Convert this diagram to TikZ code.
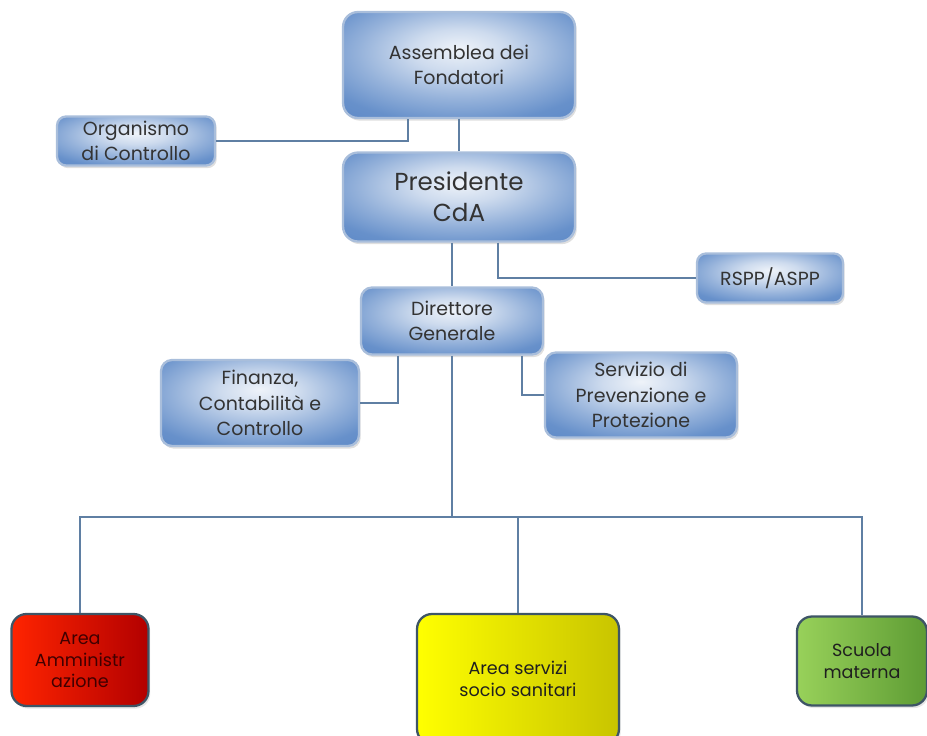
\documentclass[tikz,border=0pt]{standalone}
\usepackage{fontspec}
\setmainfont{Poppins}
\usepackage{tikz}
\usetikzlibrary{positioning, shadows, calc}
\definecolor{boxblue}{HTML}{5A87C6}
\definecolor{boxedge}{HTML}{A9BEDB}
\definecolor{linkcolor}{HTML}{5F7FA3}
\definecolor{textgrey}{HTML}{333333}
\definecolor{areaedge}{HTML}{3E5566}
\definecolor{redleft}{HTML}{FF2400}
\definecolor{redright}{HTML}{B20000}
\definecolor{yelleft}{HTML}{FFFF00}
\definecolor{yelright}{HTML}{C8C400}
\definecolor{grnleft}{HTML}{98D15A}
\definecolor{grnright}{HTML}{5E9C34}
\pgfdeclareradialshading{unitshade}{\pgfpoint{0bp}{8bp}}{%
  color(0bp)=(white!90!boxblue); color(10bp)=(white!70!boxblue);
  color(22bp)=(white!35!boxblue); color(32bp)=(white!8!boxblue);
  color(42bp)=(boxblue); color(75bp)=(boxblue!85!black)}

\begin{document}
\begin{tikzpicture}[x=0.02cm, y=-0.02cm,
    unit/.style={draw=boxedge, line width=1.3pt, rounded corners=0.22cm, shading=unitshade,
                 align=center, text=textgrey, inner sep=0pt,
                 font=\fontsize{10.8}{14.5}\selectfont,
                 drop shadow={opacity=0.25, shadow xshift=1pt, shadow yshift=-1.5pt}},
    area/.style={draw=areaedge, line width=1.3pt, rounded corners=0.3cm, shading=axis,
                 align=center, text=textgrey!60!black, inner sep=0pt,
                 font=\fontsize{10}{12.5}\selectfont,
                 drop shadow={opacity=0.2, shadow xshift=1pt, shadow yshift=-1.5pt}},
    link/.style={draw=linkcolor, line width=0.6pt}
]
    \useasboundingbox (0,0) rectangle (927,736);

    % --- vertici ---
    \node[unit, minimum width=4.64cm, minimum height=2.12cm, rounded corners=0.3cm] (assemblea) at (459,65) {Assemblea dei\\Fondatori};
    \node[unit, minimum width=3.16cm, minimum height=0.98cm, rounded corners=0.18cm] (organismo) at (136,141) {Organismo\\di Controllo};
    \node[unit, minimum width=4.64cm, minimum height=1.78cm, rounded corners=0.3cm,
          font=\fontsize{14}{17.5}\selectfont] (presidente) at (459,197) {Presidente\\CdA};
    \node[unit, minimum width=2.92cm, minimum height=0.98cm, rounded corners=0.18cm] (rspp) at (770,278) {RSPP/ASPP};

    % --- direzione ---
    \node[unit, minimum width=3.64cm, minimum height=1.34cm] (direttore) at (452,321) {Direttore\\Generale};
    \node[unit, minimum width=3.96cm, minimum height=1.72cm] (finanza) at (260,403) {Finanza,\\Contabilità e\\Controllo};
    \node[unit, minimum width=3.84cm, minimum height=1.70cm] (servizio) at (641,395) {Servizio di\\Prevenzione e\\Protezione};

    % --- aree ---
    \node[area, left color=redleft, right color=redright, minimum width=2.74cm, minimum height=1.84cm,
          text=red!25!black] (amm) at (80,660) {Area\\Amministr\\azione};
    \node[area, left color=yelleft, right color=yelright, minimum width=4.04cm, minimum height=2.6cm] (sanit) at (518,679) {Area servizi\\socio sanitari};
    \node[area, left color=grnleft, right color=grnright, minimum width=2.6cm, minimum height=1.78cm] (scuola) at (862,661) {Scuola\\materna};

    % --- collegamenti ---
    \draw[link] (assemblea) -- (presidente);
    \draw[link] (organismo.east) -| ($(assemblea.south)+(-51,0)$);
    \draw[link] ($(presidente.south)+(-7,0)$) -- ($(direttore.north)$);
    \draw[link] ($(presidente.south)+(39,0)$) |- (rspp.west);
    \draw[link] ($(direttore.south)+(-54,0)$) |- (finanza.east);
    \draw[link] ($(direttore.south)+(70,0)$) |- (servizio.west);
    \coordinate (bus) at (452,517);
    \draw[link] (direttore.south) -- (bus);
    \draw[link] (amm.north) -- (amm.north |- bus) -- (scuola.north |- bus) -- (scuola.north);
    \draw[link] (sanit.north |- bus) -- (sanit.north);
\end{tikzpicture}
\end{document}
